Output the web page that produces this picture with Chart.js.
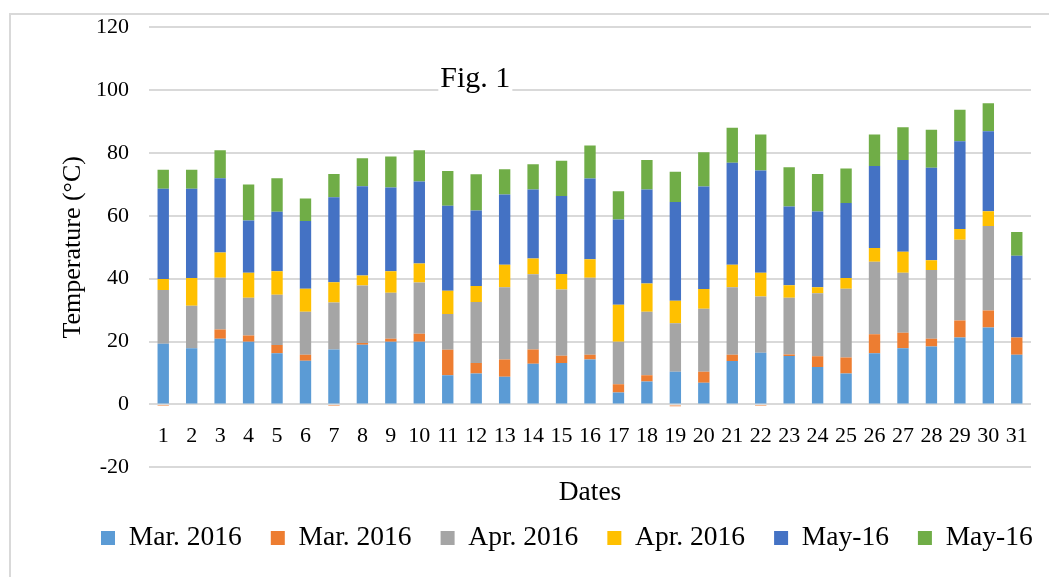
<!DOCTYPE html>
<html>
<head>
<meta charset="utf-8">
<script src="https://cdn.jsdelivr.net/npm/chart.js@4.4.1/dist/chart.umd.min.js"></script>
<style>
  html, body { margin: 0; padding: 0; background: #ffffff; overflow: hidden; width: 1049px; height: 577px; }
  #frame { position: absolute; left: 9px; top: 13px; width: 2000px; height: 2000px;
           border-left: 2px solid #d9d9d9; border-top: 2px solid #d9d9d9; box-sizing: border-box; }
  #c { position: absolute; left: 0; top: 0; }
</style>
</head>
<body>
<div id="frame"></div>
<canvas id="c" width="1080" height="577"></canvas>
<script>
const dates = ['1','2','3','4','5','6','7','8','9','10','11','12','13','14','15','16','17','18','19','20','21','22','23','24','25','26','27','28','29','30','31'];

const seriesNames = ['Mar. 2016', 'Mar. 2016', 'Apr. 2016', 'Apr. 2016', 'May-16', 'May-16'];

const mar2016a = [19.3, 17.9, 20.9, 19.9, 16.3, 13.9, 17.5, 19.0, 19.9, 19.9, 9.3, 9.8, 8.8, 12.9, 13.2, 14.3, 3.8, 7.3, 10.4, 6.9, 13.8, 16.4, 15.4, 11.9, 9.8, 16.3, 17.9, 18.4, 21.3, 24.5, 15.8];
const mar2016b = [-0.5, 0, 2.9, 2.0, 2.6, 1.9, -0.5, 0.5, 1.0, 2.6, 8.1, 3.4, 5.5, 4.6, 2.3, 1.5, 2.6, 2.0, -0.6, 3.5, 2.0, -0.5, 0.5, 3.4, 5.1, 6.0, 4.9, 2.5, 5.4, 5.4, 5.5];
const apr2016a = [17.1, 13.5, 16.5, 12.0, 16.0, 13.7, 14.9, 18.3, 14.6, 16.3, 11.4, 19.4, 23.0, 23.9, 21.1, 24.5, 13.5, 20.2, 15.4, 20.0, 21.5, 17.9, 18.0, 20.1, 21.9, 23.1, 19.1, 21.9, 25.7, 26.9, 0];
const apr2016b = [3.5, 8.8, 8.0, 8.0, 7.5, 7.3, 6.5, 3.2, 6.9, 6.0, 7.4, 5.1, 7.1, 5.0, 4.9, 5.9, 11.8, 9.0, 7.2, 6.3, 7.1, 7.6, 4.0, 1.9, 3.4, 4.4, 6.7, 3.1, 3.4, 4.7, 0];
const may16a = [28.7, 28.4, 23.7, 16.6, 18.9, 21.6, 27.0, 28.4, 26.6, 26.1, 27.0, 24.0, 22.4, 22.0, 24.8, 25.7, 27.1, 29.9, 31.4, 32.6, 32.5, 32.5, 25.1, 24.1, 23.9, 26.1, 29.2, 29.4, 27.9, 25.4, 26.0];
const may16b = [6.1, 6.1, 8.9, 11.5, 10.7, 7.1, 7.4, 8.9, 9.9, 10.0, 11.1, 11.5, 8.0, 8.0, 11.2, 10.5, 9.0, 9.4, 9.6, 10.9, 11.1, 11.5, 12.5, 11.9, 11.0, 10.0, 10.4, 12.1, 10.1, 8.9, 7.6];

const seriesColors = ['#5B9BD5', '#ED7D31', '#A5A5A5', '#FFC000', '#4472C4', '#70AD47'];

const yTicksMin = -20, yTicksMax = 120, yTickStep = 20;
const yTitle = 'Temperature (°C)';
const xTitle = 'Dates';
const figText = 'Fig. 1';

const SERIF = '"Liberation Serif", "Times New Roman", serif';

const allSeries = [mar2016a, mar2016b, apr2016a, apr2016b, may16a, may16b];
const datasets = allSeries.map((vals, i) => ({
  label: seriesNames[i],
  data: vals,
  backgroundColor: seriesColors[i],
  borderWidth: 0,
  barPercentage: 0.4,
  categoryPercentage: 1.0
}));

const figPlugin = {
  id: 'figLabel',
  afterDatasetsDraw(chart) {
    const { ctx, chartArea, scales } = chart;
    ctx.save();
    ctx.font = '30px ' + SERIF;
    const w = ctx.measureText(figText).width;
    const cx = chartArea.left + chartArea.width * 0.37;
    const by = scales.y.getPixelForValue(101);
    ctx.fillStyle = '#ffffff';
    ctx.fillRect(cx - w / 2 - 2, by - 24, w + 4, 32);
    ctx.fillStyle = '#000000';
    ctx.textAlign = 'center';
    ctx.textBaseline = 'alphabetic';
    ctx.fillText(figText, cx, by);
    ctx.restore();
  }
};

new Chart(document.getElementById('c'), {
  type: 'bar',
  data: { labels: dates, datasets },
  options: {
    responsive: false,
    animation: false,
    devicePixelRatio: 1,
    layout: { padding: { left: 72, right: 0, top: 27.3, bottom: 15.25 } },
    plugins: {
      legend: {
        position: 'bottom',
        align: 'start',
        labels: {
          boxWidth: 14,
          boxHeight: 14,
          padding: 29,
          color: '#000000',
          font: { family: SERIF, size: 27.5 }
        }
      },
      tooltip: { enabled: false },
      title: { display: false }
    },
    scales: {
      x: {
        type: 'category',
        stacked: true,
        offset: true,
        grid: { display: false, drawTicks: false },
        border: { display: false },
        ticks: { display: false },
        title: {
          display: true,
          text: xTitle,
          color: '#000000',
          font: { family: SERIF, size: 27.5 },
          padding: { top: 9.25, bottom: -14.25 }
        }
      },
      x2: {
        type: 'category',
        axis: 'x',
        position: { y: 0 },
        offset: true,
        grid: { display: false, drawTicks: false },
        border: { display: false },
        ticks: {
          color: '#000000',
          font: { family: SERIF, size: 22 },
          padding: 18.5,
          maxRotation: 0,
          autoSkip: false
        }
      },
      y: {
        stacked: true,
        min: yTicksMin,
        max: yTicksMax,
        grid: { color: '#d9d9d9', lineWidth: 2, drawTicks: true, tickLength: 18, tickColor: 'rgba(0,0,0,0)' },
        border: { display: false },
        ticks: {
          stepSize: yTickStep,
          color: '#000000',
          font: { family: SERIF, size: 22 },
          padding: 2
        },
        title: {
          display: true,
          text: yTitle,
          color: '#000000',
          font: { family: SERIF, size: 26 },
          padding: { top: -14.6, bottom: 5.4 }
        }
      },
      yR: {
        type: 'linear',
        position: 'right',
        display: true,
        grid: { display: false, drawTicks: false },
        border: { display: false },
        ticks: { display: false },
        afterFit(scale) { scale.width = 49; }
      }
    }
  },
  plugins: [figPlugin]
});
</script>
</body>
</html>
